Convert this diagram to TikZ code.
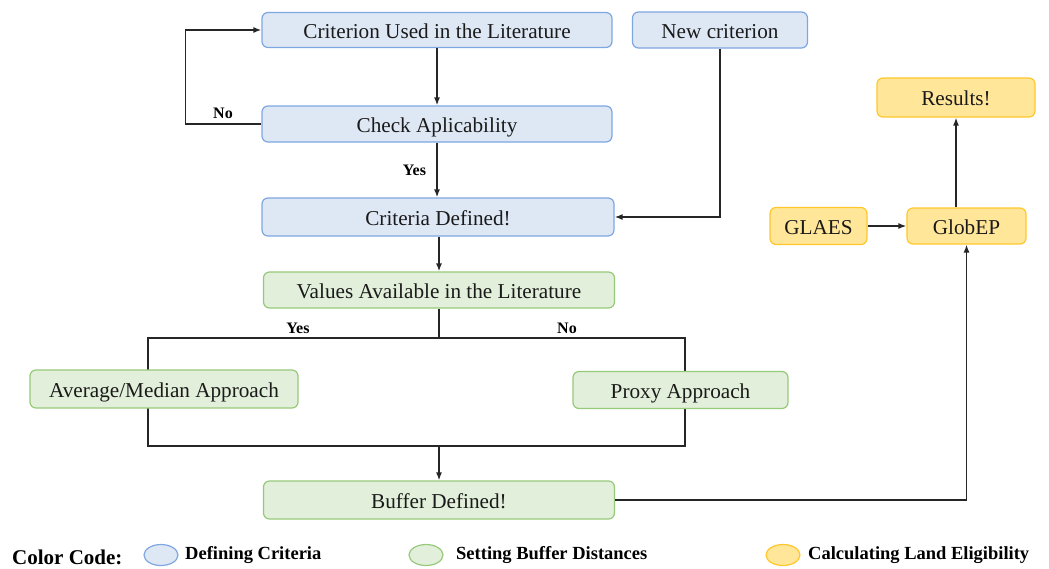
\documentclass[tikz,border=0pt]{standalone}
\usepackage{fontspec}
\setmainfont{Liberation Serif}
\usetikzlibrary{arrows.meta,shapes.geometric}
\definecolor{bfill}{HTML}{DEE8F5}
\definecolor{bline}{HTML}{7EA6E0}
\definecolor{gfill}{HTML}{E2EFDA}
\definecolor{gline}{HTML}{97C97A}
\definecolor{yfill}{HTML}{FFE699}
\definecolor{yline}{HTML}{FFC72C}
\definecolor{txt}{HTML}{1A1A1A}
\tikzset{
  box/.style={draw, rounded corners=6pt, line width=1.2pt, inner sep=0pt, align=center, text=txt,
    font=\fontsize{21.2}{24}\selectfont, text height=17pt, text depth=0.5pt},
  bluebox/.style={box, fill=bfill, draw=bline},
  greenbox/.style={box, fill=gfill, draw=gline},
  yellowbox/.style={box, fill=yfill, draw=yline},
  conn/.style={line width=1.4pt, draw=black!85},
  arr/.style={conn, -{Latex[length=8pt,width=6pt]}},
  lbl/.style={font=\bfseries\fontsize{16}{18}\selectfont, text=black},
  legtxt/.style={font=\bfseries\fontsize{18.5}{20}\selectfont, anchor=west, inner sep=0pt},
  legdot/.style={ellipse, line width=1.2pt, minimum width=34pt, minimum height=21pt, inner sep=0pt}
}
\begin{document}
\begin{tikzpicture}[x=1pt,y=-1pt]
\useasboundingbox (0,0) rectangle (1049,568);
% bracket behind the approach boxes
\coordinate (tl) at (148,338);
\coordinate (tr) at (685,338);
\coordinate (br) at (685,446);
\coordinate (bl) at (148,446);
\coordinate (merge) at (439,446);
\draw[conn] (tl) -- (tr) -- (br) -- (bl) -- cycle;

\node[bluebox, minimum width=350pt, minimum height=35pt] (crit) at (437,30) {Criterion Used in the Literature};
\node[bluebox, minimum width=175pt, minimum height=36pt] (newc) at (720,30) {New criterion};
\node[bluebox, minimum width=350pt, minimum height=36pt] (check) at (437,124) {Check Aplicability};
\node[bluebox, minimum width=352pt, minimum height=38pt] (critdef) at (438,217) {Criteria Defined!};
\node[greenbox, minimum width=351pt, minimum height=36pt] (values) at (439,290) {Values Available in the Literature};
\node[greenbox, minimum width=268pt, minimum height=38pt] (avg) at (164,389) {Average/Median Approach};
\node[greenbox, minimum width=215pt, minimum height=37pt] (proxy) at (680.5,390) {Proxy Approach};
\node[greenbox, minimum width=351pt, minimum height=38pt] (buffer) at (439,500) {Buffer Defined!};
\node[yellowbox, minimum width=158pt, minimum height=39pt] (results) at (956,97.5) {Results!};
\node[yellowbox, minimum width=97pt, minimum height=37pt] (glaes) at (818.5,226) {GLAES};
\node[yellowbox, minimum width=119pt, minimum height=36pt] (globep) at (966.5,226) {GlobEP};

% connectors
\draw[arr] (crit.south -| check.north) -- (check.north);
\draw[arr] (check.west) -- ++(-76,0) |- (crit.west);
\node[lbl] (nolbl1) at (223,113) {No};
\draw[arr] (check.south) -- node[lbl, left=7pt] (yeslbl1) {Yes} (check.south |- critdef.north);
\draw[arr] (newc.south) |- (critdef.east);
\draw[arr] (values.north |- critdef.south) -- (values.north);
\draw[conn] (values.south) -- (values.south |- tl);
\node[lbl] (yeslbl2) at (298,328) {Yes};
\node[lbl] (nolbl2) at (567,328) {No};
\draw[arr] (merge) -- (merge |- buffer.north);
\draw[arr] (buffer.east) -| (globep.south);
\draw[arr] (glaes.east) -- (globep.west);
\draw[arr] (globep.north -| results.south) -- (results.south);

% legend
\node[anchor=west, inner sep=0pt, font=\bfseries\fontsize{21}{24}\selectfont] (cc) at (12,557) {Color Code:};
\node[legdot, fill=bfill, draw=bline] (d1) at (161,555) {};
\node[legtxt] (t1) at (185,555) {Defining Criteria};
\node[legdot, fill=gfill, draw=gline] (d2) at (426,555) {};
\node[legtxt] (t2) at (456,555) {Setting Buffer Distances};
\node[legdot, fill=yfill, draw=yline] (d3) at (783,555) {};
\node[legtxt] (t3) at (808,555) {Calculating Land Eligibility};
\end{tikzpicture}
\end{document}
